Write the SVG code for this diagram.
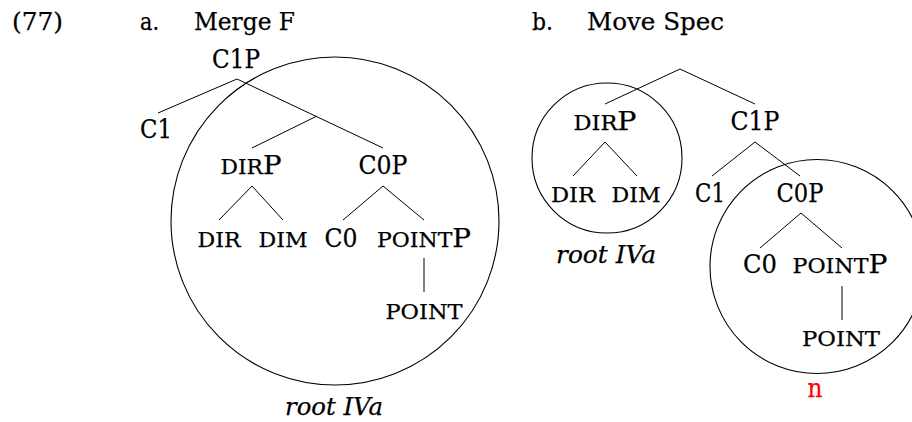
<svg xmlns="http://www.w3.org/2000/svg" width="912" height="422" viewBox="0 0 912 422">
<style>
text{font-family:"DejaVu Serif","Liberation Serif",serif;font-size:26px;fill:#000;stroke:#000;stroke-width:0.25}
.h{font-size:24px}
.c{text-anchor:middle}
.sc{font-size:20.5px}
.it{font-style:italic;font-size:25px}
.red{fill:#ff0000;stroke:#ff0000}
.ln{stroke:#000;stroke-width:1;fill:none}
.circ{stroke:#000;stroke-width:1.1;fill:none}
</style>
<rect width="912" height="422" fill="#fff"/>
<g id="heading">
<text class="h" x="12" y="30" textLength="51" lengthAdjust="spacingAndGlyphs">(77)</text>
<text class="h" x="140" y="30" textLength="19" lengthAdjust="spacingAndGlyphs">a.</text>
<text class="h" x="194" y="30" textLength="101" lengthAdjust="spacingAndGlyphs">Merge F</text>
<text class="h" x="532" y="30" textLength="21" lengthAdjust="spacingAndGlyphs">b.</text>
<text class="h" x="587" y="30" textLength="137" lengthAdjust="spacingAndGlyphs">Move Spec</text>
</g>
<g id="domains">
<circle id="circle-a" class="circ" cx="335" cy="221" r="164"/>
<circle id="circle-b-dir" class="circ" cx="607" cy="158" r="75"/>
<circle id="circle-b-c0" class="circ" cx="817" cy="266.5" r="107"/>
</g>
<g id="connectors">
<path class="ln" d="M237 79 L158 113 M237 79 L383 148 M317 116 L252 148"/>
<path class="ln" d="M252 186 L219 220 M252 186 L283 220"/>
<path class="ln" d="M383 186 L343 220 M383 186 L424 220"/>
<path class="ln" d="M424 258 L424 292"/>
<path class="ln" d="M680 69 L605 104 M680 69 L755 104"/>
<path class="ln" d="M605 142 L573 176 M605 142 L637 176"/>
<path class="ln" d="M755 142 L712 176 M755 142 L800 176"/>
<path class="ln" d="M801 213 L760 248 M801 213 L842 248"/>
<path class="ln" d="M842 286 L842 320"/>
</g>
<g id="tree-a">
<g id="a-C1P"><text class="c" x="236" y="68" textLength="48" lengthAdjust="spacingAndGlyphs">C1P</text></g>
<g id="a-C1"><text class="c" x="156" y="138" textLength="32" lengthAdjust="spacingAndGlyphs">C1</text></g>
<g id="a-DIRP"><text class="c" x="251" y="174" textLength="61" lengthAdjust="spacingAndGlyphs"><tspan class="sc">DIR</tspan>P</text></g>
<g id="a-C0P"><text class="c" x="383" y="174" textLength="49" lengthAdjust="spacingAndGlyphs">C0P</text></g>
<g id="a-DIR"><text class="c sc" x="219" y="247" textLength="43" lengthAdjust="spacingAndGlyphs">DIR</text></g>
<g id="a-DIM"><text class="c sc" x="283" y="247" textLength="49" lengthAdjust="spacingAndGlyphs">DIM</text></g>
<g id="a-C0"><text class="c" x="341" y="247" textLength="33" lengthAdjust="spacingAndGlyphs">C0</text></g>
<g id="a-POINTP"><text class="c" x="424" y="247" textLength="94" lengthAdjust="spacingAndGlyphs"><tspan class="sc">POINT</tspan>P</text></g>
<g id="a-POINT"><text class="c sc" x="424" y="319" textLength="77" lengthAdjust="spacingAndGlyphs">POINT</text></g>
<g id="a-root"><text class="c it" x="334" y="415" textLength="98" lengthAdjust="spacingAndGlyphs">root IVa</text></g>
</g>
<g id="tree-b">
<g id="b-DIRP"><text class="c" x="605" y="130" textLength="63" lengthAdjust="spacingAndGlyphs"><tspan class="sc">DIR</tspan>P</text></g>
<g id="b-C1P"><text class="c" x="755" y="130" textLength="49" lengthAdjust="spacingAndGlyphs">C1P</text></g>
<g id="b-DIR"><text class="c sc" x="573" y="202" textLength="44" lengthAdjust="spacingAndGlyphs">DIR</text></g>
<g id="b-DIM"><text class="c sc" x="636" y="202" textLength="49" lengthAdjust="spacingAndGlyphs">DIM</text></g>
<g id="b-root"><text class="c it" x="606" y="263" textLength="100" lengthAdjust="spacingAndGlyphs">root IVa</text></g>
<g id="b-C1"><text class="c" x="710" y="202" textLength="30" lengthAdjust="spacingAndGlyphs">C1</text></g>
<g id="b-C0P"><text class="c" x="800" y="202" textLength="47" lengthAdjust="spacingAndGlyphs">C0P</text></g>
<g id="b-C0"><text class="c" x="760" y="273" textLength="34" lengthAdjust="spacingAndGlyphs">C0</text></g>
<g id="b-POINTP"><text class="c" x="840" y="273" textLength="95" lengthAdjust="spacingAndGlyphs"><tspan class="sc">POINT</tspan>P</text></g>
<g id="b-POINT"><text class="c sc" x="841" y="346" textLength="78" lengthAdjust="spacingAndGlyphs">POINT</text></g>
<g id="b-n"><text class="c red" x="815" y="397" textLength="15" lengthAdjust="spacingAndGlyphs">n</text></g>
</g>
</svg>
